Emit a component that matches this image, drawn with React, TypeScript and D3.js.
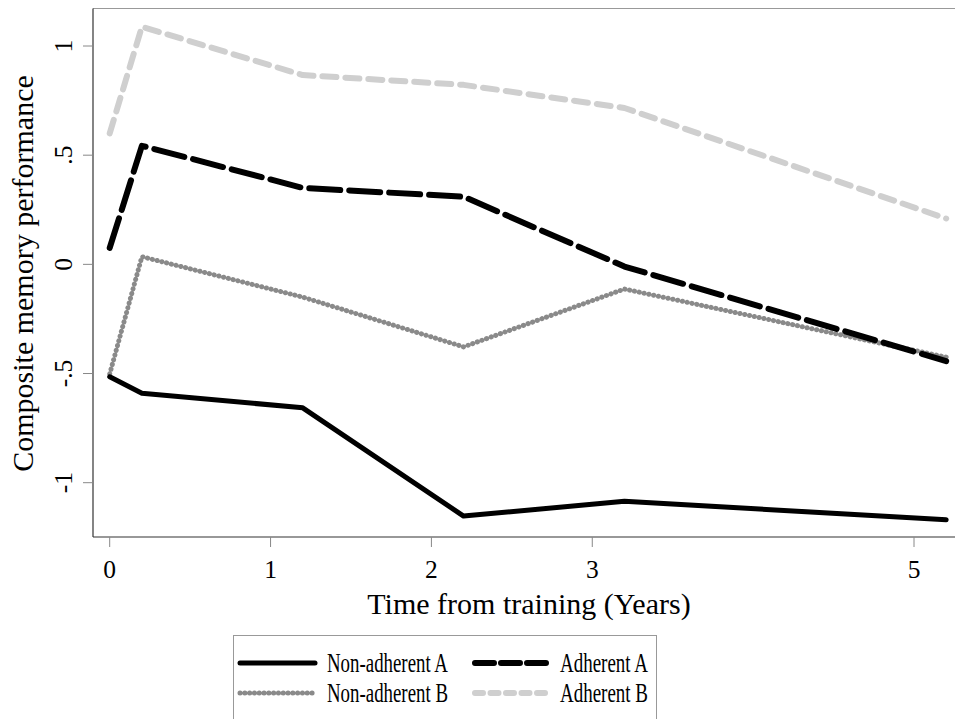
import React from "react";
import * as d3 from "d3";

const years = [0, 0.2, 1.2, 2.2, 3.2, 5.2];
const nonAdherentA = [-0.515, -0.59, -0.657, -1.153, -1.085, -1.17];
const nonAdherentB = [-0.502, 0.035, -0.15, -0.378, -0.113, -0.425];
const adherentA = [0.075, 0.543, 0.35, 0.31, -0.01, -0.443];
const adherentB = [0.6, 1.088, 0.867, 0.822, 0.716, 0.21];

const xTicks = [0, 1, 2, 3, 5];
const yTicks = [-1, -0.5, 0, 0.5, 1];
const yTickLabels = ["-1", "-.5", "0", ".5", "1"];

const W = 955;
const H = 719;
const FONT = "'Liberation Serif', 'Times New Roman', serif";

export default function App() {
  const x = d3.scaleLinear().domain([0, 5]).range([109.7, 914]);
  const y = d3.scaleLinear().domain([-1, 1]).range([482.7, 46]);
  const left = 93, right = 955, top = 8.5, bottom = 537;

  const line = d3
    .line<[number, number]>()
    .x((d) => x(d[0]))
    .y((d) => y(d[1]));
  const pts = (vals: number[]) => years.map((t, i) => [t, vals[i]] as [number, number]);

  const styles: Record<string, any> = {
    "Non-adherent A": { stroke: "#000", w: 5, dash: undefined, legDash: undefined, vals: nonAdherentA },
    "Adherent A": { stroke: "#000", w: 6, dash: "31 9", legDash: "19 7", vals: adherentA },
    "Non-adherent B": { stroke: "#8a8a8a", w: 5, dash: "0.1 4.8", legDash: "0.1 4.7", vals: nonAdherentB },
    "Adherent B": { stroke: "#cfcfcf", w: 6, dash: "14 9", legDash: "8 7.5", vals: adherentB },
  };
  const drawOrder = ["Adherent B", "Non-adherent B", "Adherent A", "Non-adherent A"];

  const legendItems = [
    { name: "Non-adherent A", x0: 240, x1: 315, tx: 327, ty: 672, ly: 663, tw: 121 },
    { name: "Adherent A", x0: 475, x1: 547, tx: 560, ty: 672, ly: 663, tw: 88 },
    { name: "Non-adherent B", x0: 240, x1: 315, tx: 327, ty: 702, ly: 693, tw: 121 },
    { name: "Adherent B", x0: 475, x1: 547, tx: 560, ty: 702, ly: 693, tw: 88 },
  ];

  return (
    <svg width={W} height={H} style={{ position: "absolute", left: 0, top: 0, background: "#fff" }}>
      <rect x={0} y={0} width={W} height={H} fill="#fff" />
      <line x1={left} x2={right} y1={top} y2={top} stroke="#999" strokeWidth={1.2} />
      <line x1={left} x2={left} y1={top} y2={bottom} stroke="#333" strokeWidth={1.2} />
      <line x1={left} x2={right} y1={bottom} y2={bottom} stroke="#333" strokeWidth={1.2} />

      {xTicks.map((t) => (
        <g key={"xt" + t}>
          <line x1={x(t)} x2={x(t)} y1={bottom} y2={bottom + 10} stroke="#888" strokeWidth={1} />
          <text x={x(t)} y={578} textAnchor="middle" fontFamily={FONT} fontSize={25.5} fill="#000">
            {t}
          </text>
        </g>
      ))}
      {yTicks.map((t, i) => (
        <g key={"yt" + t}>
          <line x1={left - 10} x2={left} y1={y(t)} y2={y(t)} stroke="#888" strokeWidth={1} />
          <text
            transform={`translate(72,${y(t)}) rotate(-90)`}
            textAnchor="middle"
            fontFamily={FONT}
            fontSize={25.5}
            fill="#000"
          >
            {yTickLabels[i]}
          </text>
        </g>
      ))}

      <text x={529} y={614} textAnchor="middle" fontFamily={FONT} fontSize={30} fill="#000">
        Time from training (Years)
      </text>
      <text
        transform={`translate(33,273.5) rotate(-90)`}
        textAnchor="middle"
        fontFamily={FONT}
        fontSize={30}
        fill="#000"
      >
        Composite memory performance
      </text>

      {drawOrder.map((n) => {
        const s = styles[n];
        return (
          <path
            key={n}
            d={line(pts(s.vals)) || ""}
            fill="none"
            stroke={s.stroke}
            strokeWidth={s.w}
            strokeDasharray={s.dash}
            strokeLinecap="round"
            strokeLinejoin="round"
          />
        );
      })}

      <rect x={233.5} y={635.5} width={423} height={100} fill="#fff" stroke="#999" strokeWidth={1} />
      {legendItems.map((it) => {
        const s = styles[it.name];
        return (
          <g key={"lg" + it.name}>
            <line
              x1={it.x0}
              x2={it.x1}
              y1={it.ly}
              y2={it.ly}
              stroke={s.stroke}
              strokeWidth={s.w}
              strokeDasharray={s.legDash}
              strokeLinecap="round"
            />
            <text
              x={it.tx}
              y={it.ty}
              fontFamily={FONT}
              fontSize={27}
              textLength={it.tw}
              lengthAdjust="spacingAndGlyphs"
              fill="#000"
            >
              {it.name}
            </text>
          </g>
        );
      })}
    </svg>
  );
}
